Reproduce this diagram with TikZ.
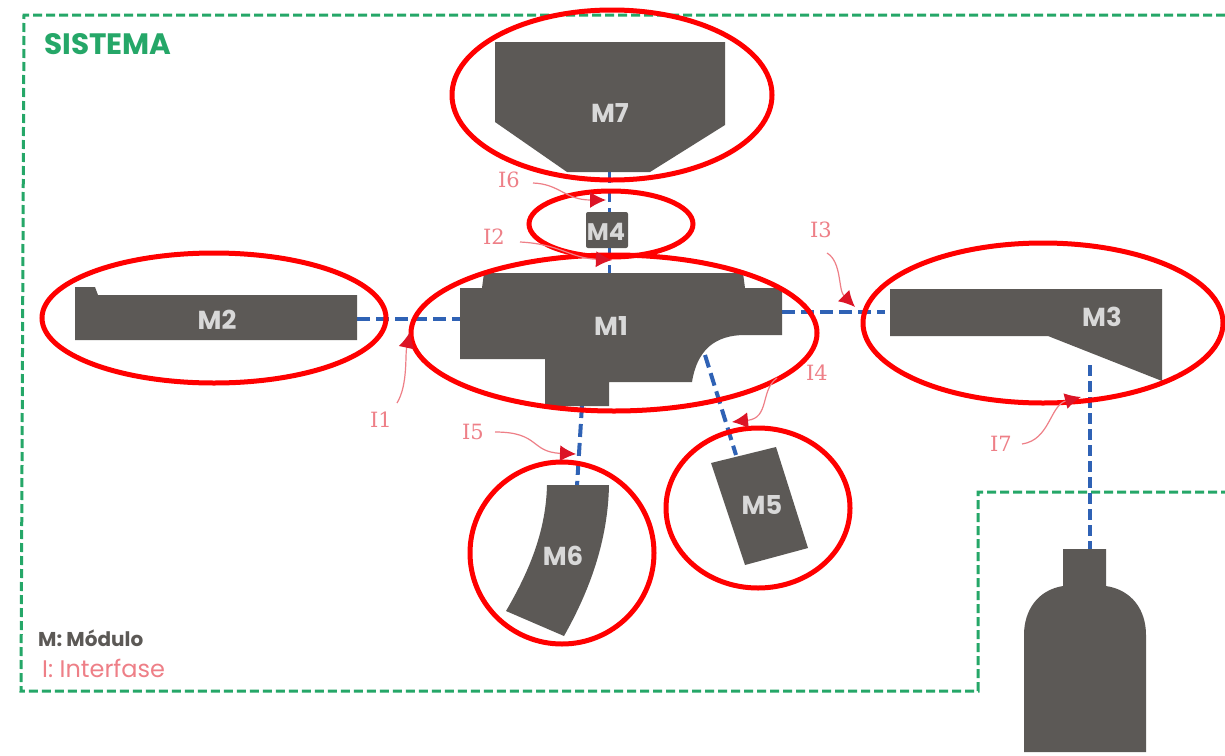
\documentclass[tikz,border=0pt]{standalone}
\usepackage{fontspec}
\setmainfont{Poppins}
\newfontfamily\slabf{DejaVu Serif}
\usetikzlibrary{arrows.meta}
\definecolor{body}{HTML}{5C5956}
\definecolor{sysg}{HTML}{25A768}
\definecolor{ifb}{HTML}{2F62B5}
\definecolor{redc}{HTML}{FF0000}
\definecolor{lab}{HTML}{EE7F87}
\definecolor{headc}{HTML}{DC1426}
\definecolor{mtxt}{HTML}{D8D8D8}
\tikzset{
 x=1pt,y=-1pt,
 part/.style={fill=body,draw=none},
 sysline/.style={draw=sysg,line width=3pt,dash pattern=on 9pt off 4pt},
 iface/.style={draw=ifb,line width=4pt,dash pattern=on 13pt off 6pt},
 ring/.style={draw=redc,line width=5pt,fill=none},
 mlabel/.style={text=mtxt,font=\bfseries\fontsize{26}{28}\selectfont,inner sep=0pt},
 ilabel/.style={text=lab,font=\fontsize{21}{23}\selectfont\slabf,inner sep=0pt},
 pointer/.style={draw=lab,line width=1.2pt,-{Latex[length=16pt,width=16pt,color=headc]}},
}
\begin{document}
\begin{tikzpicture}
\useasboundingbox[fill=white] (0,0) rectangle (1225,755);
% system boundary
\draw[sysline] (1225,15) -- (24,15) -- (21,691) -- (978,691) -- (978,492) -- (1225,492);
\node[text=sysg,font=\bfseries\fontsize{29.5}{31}\selectfont,inner sep=0pt,anchor=west] (sis) at (44,44) {SISTEMA};
% interfaces (drawn beneath the parts)
\coordinate (i7a) at (609,170); \coordinate (i7b) at (609,275);
\draw[iface,line width=3pt] (i7a) -- (i7b);
\coordinate (m2r) at (357,319); \coordinate (m1l) at (460,319);
\draw[iface] (m2r) -- (m1l);
\coordinate (m1r) at (782,312); \coordinate (m3l) at (885,312);
\draw[iface] (m1r) -- (m3l);
\coordinate (m1c) at (705,355); \coordinate (m5t) at (736,455);
\draw[iface] (m1c) -- (m5t);
\coordinate (m1b) at (582,405); \coordinate (m6t) at (577,486);
\draw[iface] (m1b) -- (m6t);
\coordinate (m3b) at (1090,365); \coordinate (botl) at (1090,550);
\draw[iface,dash pattern=on 11pt off 5pt] (m3b) -- (botl);
% parts
\path[part] (495,42) -- (725,42) -- (725,125) -- (650,172) -- (567,172) -- (495,122) -- cycle;
\node[mlabel] (M7) at (610,113) {M7};
\path[part,rounded corners=2pt] (586,212) -- (628,212) -- (628,248) -- (586,248) -- cycle;
\node[mlabel,font=\bfseries\fontsize{24}{26}\selectfont] (M4) at (606,232) {M4};
\path[part] (75,287) -- (95,287) -- (98,295) -- (357,295) -- (357,340) -- (75,340) -- cycle;
\node[mlabel] (M2) at (217,320) {M2};
\path[part] (484,273) -- (743,273) -- (745,288) -- (782,288) -- (782,335) -- (745,335) .. controls (715,335) and (697,350) .. (692,382) -- (609,382) -- (609,406) -- (545,406) -- (545,359) -- (460,359) -- (460,288) -- (482,288) -- cycle;
\node[mlabel] (M1) at (611,326) {M1};
\path[part] (890,289) -- (1162,289) -- (1162,381) -- (1048,336) -- (890,336) -- cycle;
\node[mlabel] (M3) at (1102,317) {M3};
\path[part] (711,463) -- (776,447) -- (808,548) -- (745,565) -- cycle;
\node[mlabel] (M5) at (762,505) {M5};
\path[part] (547,485) -- (609,485) .. controls (608,540) and (590,590) .. (564,636) -- (506,611) .. controls (530,570) and (546,530) .. cycle;
\node[mlabel] (M6) at (563,556) {M6};
\path[part] (1063,549) -- (1106,549) -- (1106,586) .. controls (1132,590) and (1146,610) .. (1146,635) -- (1146,752) -- (1024,752) -- (1024,635) .. controls (1024,610) and (1038,590) .. (1063,586) -- cycle;
% red rings
\draw[ring] (612,95) ellipse [x radius=160,y radius=85];
\draw[ring] (611,224) ellipse [x radius=82,y radius=33];
\draw[ring] (214,318) ellipse [x radius=172,y radius=65];
\draw[ring] (614,333) ellipse [x radius=203,y radius=78];
\draw[ring] (1043,323) ellipse [x radius=180,y radius=80];
\draw[ring] (758,508) ellipse [x radius=92,y radius=80];
\draw[ring] (562,553) ellipse [x radius=92,y radius=91];
% interface labels and pointers
\node[ilabel] (I6) at (509,180) {I6};
\coordinate (i6t) at (606,200);
\coordinate (i6s) at (533,183);
\draw[pointer] (i6s) .. controls (560,184) and (565,200) .. (i6t);
\node[ilabel] (I2) at (494,237) {I2};
\coordinate (i2t) at (612,260); \coordinate (i2s) at (520,242);
\draw[pointer] (i2s) .. controls (560,244) and (570,258) .. (i2t);
\node[ilabel] (I3) at (821,230) {I3};
\coordinate (i3t) at (855,307); \coordinate (i3s) at (827,253);
\draw[pointer] (i3s) .. controls (842,262) and (838,290) .. (i3t);
\node[ilabel] (I1) at (381,420) {I1};
\coordinate (i1t) at (410,332); \coordinate (i1s) at (397,403);
\draw[pointer] (i1s) .. controls (408,385) and (405,355) .. (i1t);
\node[ilabel] (I4) at (817,373) {I4};
\coordinate (i4t) at (732,422); \coordinate (i4s) at (777,378);
\draw[pointer] (i4s) .. controls (760,390) and (770,418) .. (i4t);
\node[ilabel] (I5) at (473,432) {I5};
\coordinate (i5t) at (576,454); \coordinate (i5s) at (495,432);
\draw[pointer] (i5s) .. controls (540,432) and (530,452) .. (i5t);
\node[ilabel] (I7) at (1001,444) {I7};
\coordinate (i7t) at (1081,397); \coordinate (i7s) at (1022,444);
\draw[pointer] (i7s) .. controls (1050,440) and (1050,405) .. (i7t);
% legend
\node[text=body,font=\bfseries\fontsize{20}{22}\selectfont,inner sep=0pt,anchor=west] (lm) at (38,638) {M: Módulo};
\node[text=lab,font=\fontsize{24}{26}\selectfont,inner sep=0pt,anchor=west] (li) at (42,668) {I: Interfase};
\end{tikzpicture}
\end{document}
